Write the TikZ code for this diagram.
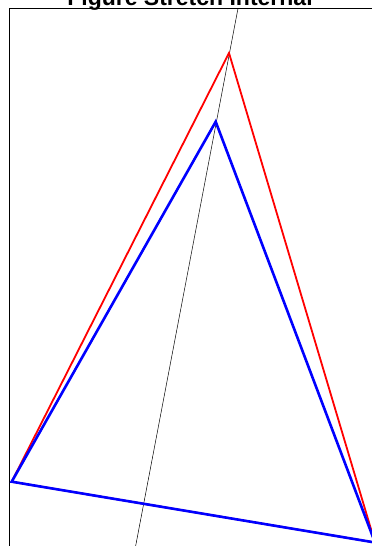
\documentclass[tikz,border=0pt]{standalone}
\usepackage{fontspec}
\setmainfont{Liberation Sans}
\begin{document}
\begin{tikzpicture}[x=1pt,y=-1pt,
  frame/.style={draw=black,line width=1pt},
  axisline/.style={draw=black,line width=0.5pt},
  redtri/.style={draw=red,line width=1.8pt,line join=miter},
  bluetri/.style={draw=blue,line width=2.6pt,line join=miter},
  titlefont/.style={font=\bfseries\fontsize{23}{27}\selectfont}]
\useasboundingbox (0,0) rectangle (372,546);
\fill[white] (0,0) rectangle (372,546);
\node[titlefont,anchor=base,inner sep=0pt] (title) at (190,5.5) {Figure Stretch Internal};
\coordinate (fTL) at (9,8.5);
\coordinate (fBR) at (420,620);
\draw[frame] (fTL) rectangle (fBR);
\coordinate (A) at (11.7,481.7);
\coordinate (R) at (229,53);
\coordinate (B) at (215.7,121.7);
\coordinate (C) at (375,542.5);
\coordinate (L1) at (239.6,0);
\coordinate (L2) at (134.5,552);
\begin{scope}
\clip (fTL) rectangle (fBR);
\draw[axisline] (L1) -- (L2);
\end{scope}
\draw[redtri] (A) -- (R) -- (C) -- cycle;
\draw[bluetri] (A) -- (B) -- (C) -- cycle;
\end{tikzpicture}
\end{document}
